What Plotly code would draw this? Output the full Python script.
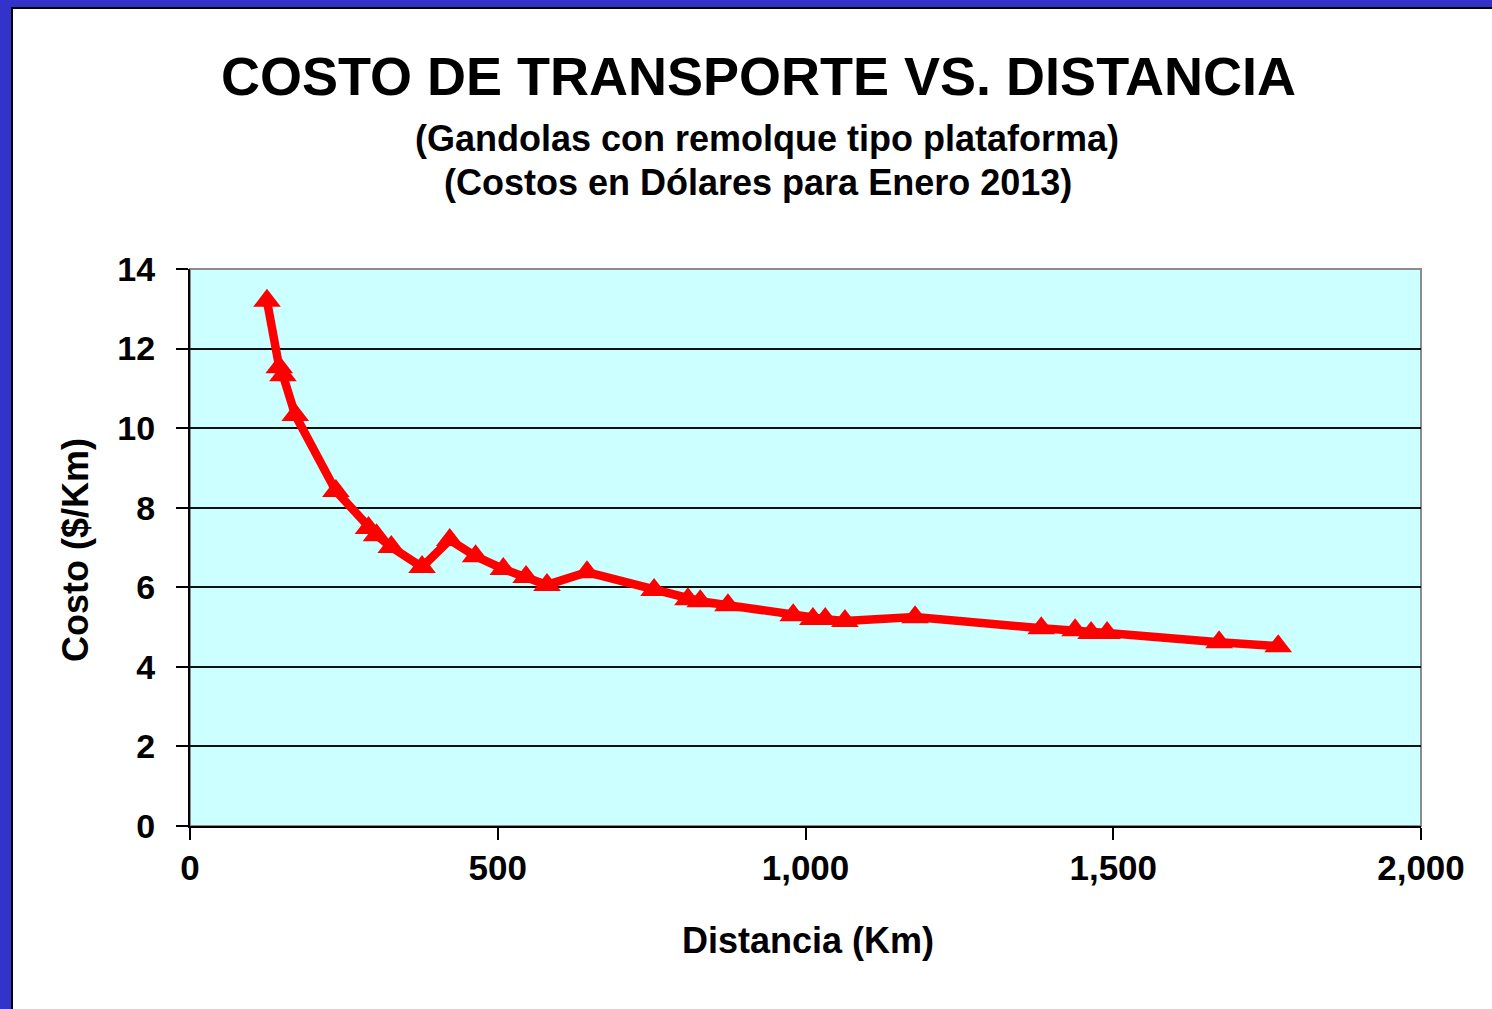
import plotly.graph_objects as go

# Data
distancia_km = [125, 145, 151, 171, 237, 290, 303, 327, 377, 422, 464, 509, 546, 580,
                645, 754, 809, 829, 874, 980, 1012, 1032, 1064, 1178, 1383, 1438,
                1464, 1490, 1672, 1768]
costo_usd_km = [13.2, 11.53, 11.33, 10.33, 8.42, 7.49, 7.31, 7.01, 6.51, 7.19, 6.78,
                6.46, 6.26, 6.06, 6.38, 5.93, 5.70, 5.65, 5.55, 5.30, 5.20, 5.20, 5.15,
                5.25, 4.97, 4.92, 4.85, 4.85, 4.62, 4.52]
x_ticks = [0, 500, 1000, 1500, 2000]
y_ticks = [0, 2, 4, 6, 8, 10, 12, 14]

W, H = 1492, 1009
L, R, T, B = 190, 71, 269, 183
PW, PH = W - L - R, H - T - B

def px(xp):
    return (xp - L) / PW

def py(yp):
    return (H - B - yp) / PH

FONT = "Liberation Sans, Arial, sans-serif"

fig = go.Figure()
fig.add_trace(go.Scatter(
    x=distancia_km, y=costo_usd_km, mode="lines+markers",
    line=dict(color="#FF0000", width=8.5),
    marker=dict(symbol="triangle-up", size=24, color="#FF0000"),
    showlegend=False, hoverinfo="x+y",
))

shapes = [
    # white panel inside the blue frame
    dict(type="rect", xref="paper", yref="paper", x0=px(12), x1=px(W + 20),
         y0=py(H + 20), y1=py(8), fillcolor="white",
         line=dict(color="black", width=2), layer="below"),
    # plot area
    dict(type="rect", xref="paper", yref="paper", x0=0, x1=1, y0=0, y1=1,
         fillcolor="#CCFFFF", line=dict(color="#8C8C8C", width=2), layer="below"),
]

annotations = [
    dict(text="<b>COSTO DE TRANSPORTE VS. DISTANCIA</b>", x=px(758.5), y=py(76),
         font=dict(size=54, family=FONT, color="black")),
    dict(text="<b>(Gandolas con remolque tipo plataforma)</b>", x=px(766.5), y=py(138),
         font=dict(size=36, family=FONT, color="black")),
    dict(text="<b>(Costos en Dólares para Enero 2013)</b>", x=px(758), y=py(182),
         font=dict(size=36, family=FONT, color="black")),
    dict(text="<b>Distancia (Km)</b>", x=px(807.5), y=py(940),
         font=dict(size=36, family=FONT, color="black")),
    dict(text="<b>Costo ($/Km)</b>", x=px(75), y=py(550), textangle=-90,
         font=dict(size=36, family=FONT, color="black")),
]
for a in annotations:
    a.update(xref="paper", yref="paper", showarrow=False,
             xanchor="center", yanchor="middle")

fig.update_layout(
    width=W, height=H,
    margin=dict(l=L, r=R, t=T, b=B, pad=0),
    paper_bgcolor="#3333CC",
    plot_bgcolor="rgba(0,0,0,0)",
    shapes=shapes,
    annotations=annotations,
    font=dict(family=FONT, color="black"),
)
fig.update_xaxes(
    range=[0, 2000], tickvals=x_ticks, tickformat=",d",
    showgrid=False, zeroline=False,
    showline=True, linecolor="black", linewidth=2,
    ticks="outside", ticklen=12, tickwidth=2, tickcolor="black",
    ticklabelstandoff=-2,
    tickfont=dict(size=35, family=FONT, color="black", weight="bold"),
)
fig.update_yaxes(
    range=[0, 14], tickvals=y_ticks,
    showgrid=True, gridcolor="#111111", gridwidth=2, zeroline=False,
    showline=True, linecolor="black", linewidth=2,
    ticks="outside", ticklen=12, tickwidth=2, tickcolor="black",
    ticklabelstandoff=14,
    tickfont=dict(size=34, family=FONT, color="black", weight="bold"),
)

fig.write_html(
    "out.html",
    config={"displayModeBar": False},
    post_script="document.body.style.margin='0';document.body.style.overflow='hidden';",
)
